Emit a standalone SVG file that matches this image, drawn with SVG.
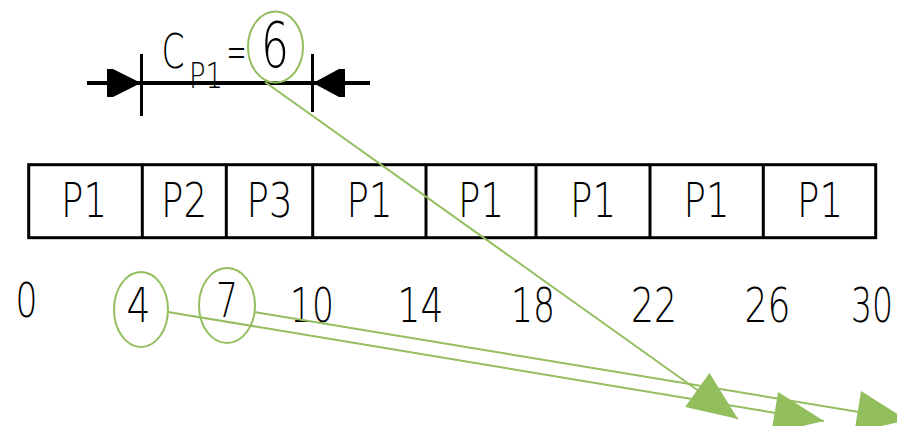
<svg xmlns="http://www.w3.org/2000/svg" width="897" height="426" viewBox="0 0 897 426">
  <style>
    .lbl { font-family: "DejaVu Sans", "Liberation Sans", sans-serif; font-weight: 200; fill: #000; text-anchor: middle; }
    .cell { font-size: 48px; }
    .num { font-size: 48px; }
    .ink { stroke: #000; fill: none; }
    .hl { stroke: #93BE5E; stroke-width: 2; fill: none; }
  </style>
  <defs>
    <marker id="greenHead" markerUnits="userSpaceOnUse" viewBox="0 0 50 42" refX="50" refY="21" markerWidth="50" markerHeight="42" orient="auto" overflow="visible">
      <path d="M0,0 L50,21 L0,42 Z" fill="#93BE5E"/>
    </marker>
  </defs>
  <rect width="897" height="426" fill="#fff"/>

  <!-- dimension: burst length of P1 -->
  <g id="dimension">
    <line class="ink" x1="87" y1="83" x2="370" y2="83" stroke-width="4"/>
    <line class="ink" x1="141.5" y1="54" x2="141.5" y2="116" stroke-width="3"/>
    <line class="ink" x1="312.5" y1="54" x2="312.5" y2="112" stroke-width="3"/>
    <path d="M107,69 L113,69 L141,83 L113,97 L107,97 Z" fill="#000"/>
    <path d="M345,69 L339,69 L313,83 L339,97 L345,97 Z" fill="#000"/>
    <text class="lbl" x="173" y="68" font-size="48" textLength="23" lengthAdjust="spacingAndGlyphs">C</text>
    <text class="lbl" x="206" y="88" font-size="36" textLength="34" lengthAdjust="spacingAndGlyphs">P1</text>
    <text class="lbl" x="236.5" y="68" font-size="48" textLength="20" lengthAdjust="spacingAndGlyphs">=</text>
    <text class="lbl" x="275" y="67" font-size="62" textLength="28" lengthAdjust="spacingAndGlyphs">6</text>
  </g>

  <!-- Gantt bar -->
  <g id="gantt">
    <rect class="ink" x="28.7" y="164.7" width="847" height="73" stroke-width="3"/>
    <line class="ink" x1="142.3" y1="164.7" x2="142.3" y2="237.7" stroke-width="3"/>
    <line class="ink" x1="226.3" y1="164.7" x2="226.3" y2="237.7" stroke-width="3"/>
    <line class="ink" x1="312.7" y1="164.7" x2="312.7" y2="237.7" stroke-width="3"/>
    <line class="ink" x1="426" y1="164.7" x2="426" y2="237.7" stroke-width="3"/>
    <line class="ink" x1="536" y1="164.7" x2="536" y2="237.7" stroke-width="3"/>
    <line class="ink" x1="650" y1="164.7" x2="650" y2="237.7" stroke-width="3"/>
    <line class="ink" x1="763.3" y1="164.7" x2="763.3" y2="237.7" stroke-width="3"/>
  </g>
  <g id="slot1"><text class="lbl cell" x="84" y="217" textLength="46" lengthAdjust="spacingAndGlyphs">P1</text></g>
  <g id="slot2"><text class="lbl cell" x="184" y="217" textLength="46" lengthAdjust="spacingAndGlyphs">P2</text></g>
  <g id="slot3"><text class="lbl cell" x="269.5" y="217" textLength="46" lengthAdjust="spacingAndGlyphs">P3</text></g>
  <g id="slot4"><text class="lbl cell" x="369.5" y="217" textLength="46" lengthAdjust="spacingAndGlyphs">P1</text></g>
  <g id="slot5"><text class="lbl cell" x="481" y="217" textLength="46" lengthAdjust="spacingAndGlyphs">P1</text></g>
  <g id="slot6"><text class="lbl cell" x="593" y="217" textLength="46" lengthAdjust="spacingAndGlyphs">P1</text></g>
  <g id="slot7"><text class="lbl cell" x="706.5" y="217" textLength="46" lengthAdjust="spacingAndGlyphs">P1</text></g>
  <g id="slot8"><text class="lbl cell" x="820" y="217" textLength="46" lengthAdjust="spacingAndGlyphs">P1</text></g>

  <!-- time axis ticks -->
  <g id="axis">
    <text class="lbl num" x="26.5" y="317" textLength="22" lengthAdjust="spacingAndGlyphs">0</text>
    <text class="lbl num" x="138.5" y="322" font-size="40" textLength="24" lengthAdjust="spacingAndGlyphs">4</text>
    <text class="lbl num" x="227" y="317" textLength="22" lengthAdjust="spacingAndGlyphs">7</text>
    <text class="lbl num" x="312" y="322" textLength="44" lengthAdjust="spacingAndGlyphs">10</text>
    <text class="lbl num" x="420.5" y="322" textLength="46" lengthAdjust="spacingAndGlyphs">14</text>
    <text class="lbl num" x="533" y="322" textLength="44" lengthAdjust="spacingAndGlyphs">18</text>
    <text class="lbl num" x="654" y="322" textLength="46" lengthAdjust="spacingAndGlyphs">22</text>
    <text class="lbl num" x="767.5" y="322" textLength="46" lengthAdjust="spacingAndGlyphs">26</text>
    <text class="lbl num" x="872" y="322" textLength="42" lengthAdjust="spacingAndGlyphs">30</text>
  </g>

  <!-- highlighted values -->
  <g id="mark6"><ellipse class="hl" cx="275.5" cy="47" rx="27.5" ry="35.5"/></g>
  <g id="mark4"><ellipse class="hl" cx="141" cy="309.5" rx="27" ry="37.5"/></g>
  <g id="mark7"><ellipse class="hl" cx="227" cy="305.5" rx="28" ry="37.5"/></g>

  <g id="connectors">
    <line class="hl" x1="265" y1="82" x2="738" y2="419" marker-end="url(#greenHead)"/>
    <line class="hl" x1="168" y1="312" x2="824" y2="421" marker-end="url(#greenHead)"/>
    <line class="hl" x1="254" y1="312" x2="907" y2="420" marker-end="url(#greenHead)"/>
  </g>
</svg>
